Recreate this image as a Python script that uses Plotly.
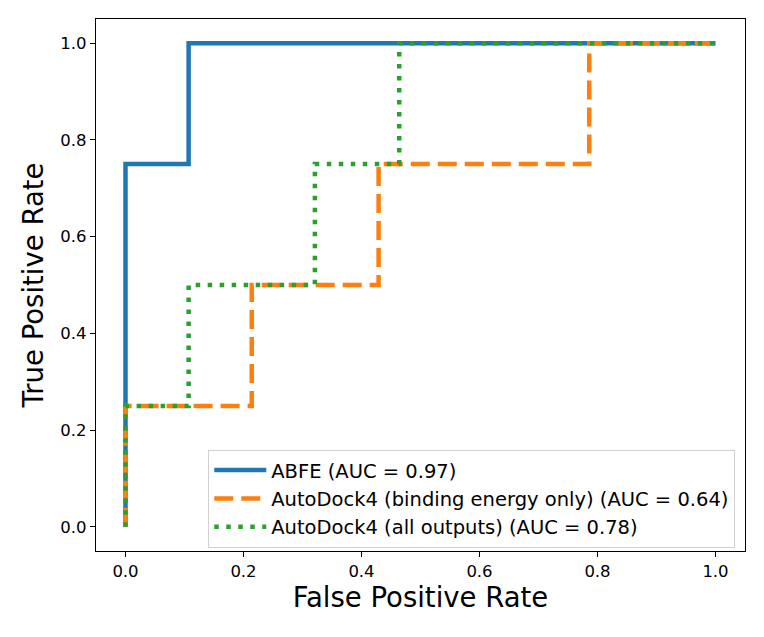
import plotly.graph_objects as go

# ROC curves
ABFE_FPR = [0.0, 0.0, 0.107, 0.107, 1.0]
ABFE_TPR = [0.0, 0.75, 0.75, 1.0, 1.0]

AD4_ENERGY_FPR = [0.0, 0.0, 0.214, 0.214, 0.429, 0.429, 0.786, 0.786, 1.0]
AD4_ENERGY_TPR = [0.0, 0.25, 0.25, 0.5, 0.5, 0.75, 0.75, 1.0, 1.0]

AD4_ALL_FPR = [0.0, 0.0, 0.107, 0.107, 0.321, 0.321, 0.464, 0.464, 1.0]
AD4_ALL_TPR = [0.0, 0.25, 0.25, 0.5, 0.5, 0.75, 0.75, 1.0, 1.0]

LABELS = [
    "ABFE (AUC = 0.97)",
    "AutoDock4 (binding energy only) (AUC = 0.64)",
    "AutoDock4 (all outputs) (AUC = 0.78)",
]
TICKS = [0.0, 0.2, 0.4, 0.6, 0.8, 1.0]
TICK_TEXT = ["0.0", "0.2", "0.4", "0.6", "0.8", "1.0"]

FONT = "DejaVu Sans"
# the page body adds an 8px margin, so the margins are shifted by that much
PAGE_OFFSET = 8

fig = go.Figure()
fig.add_trace(go.Scatter(
    x=ABFE_FPR, y=ABFE_TPR, mode="lines", name=LABELS[0],
    line={"color": "#1f77b4", "width": 4.5},
))
fig.add_trace(go.Scatter(
    x=AD4_ENERGY_FPR, y=AD4_ENERGY_TPR, mode="lines", name=LABELS[1],
    line={"color": "#ff7f0e", "width": 4.5, "dash": "19px,8px"},
))
fig.add_trace(go.Scatter(
    x=AD4_ALL_FPR, y=AD4_ALL_TPR, mode="lines", name=LABELS[2],
    line={"color": "#2ca02c", "width": 4.5, "dash": "4.5px,7.5px"},
))

axis_common = dict(
    range=[-0.05, 1.05],
    tickvals=TICKS,
    ticktext=TICK_TEXT,
    showgrid=False,
    zeroline=False,
    showline=True,
    mirror=True,
    linecolor="black",
    linewidth=1.3,
    ticks="outside",
    ticklen=5,
    tickwidth=1.2,
    tickcolor="black",
    tickfont={"family": FONT, "size": 16.5, "color": "black"},
    automargin=False,
)

fig.update_xaxes(
    **axis_common,
    title={"text": "False Positive Rate", "font": {"family": FONT, "size": 27.5, "color": "black"}, "standoff": 6},
)
fig.update_yaxes(
    **axis_common,
    title={"text": "True Positive Rate", "font": {"family": FONT, "size": 27.5, "color": "black"}, "standoff": 8},
)

fig.update_layout(
    width=764,
    height=637,
    margin={
        "l": 96 - PAGE_OFFSET,
        "r": 19 + PAGE_OFFSET,
        "t": 19 - PAGE_OFFSET,
        "b": 86 + PAGE_OFFSET,
        "autoexpand": False,
    },
    plot_bgcolor="white",
    paper_bgcolor="white",
    showlegend=True,
    legend={
        "x": 0.173,
        "y": 0.19,
        "xanchor": "left",
        "yanchor": "top",
        "bgcolor": "rgba(255,255,255,0.8)",
        "bordercolor": "#d0d0d0",
        "borderwidth": 1,
        "itemwidth": 52,
        "font": {"family": FONT, "size": 19.5, "color": "black"},
        "tracegroupgap": 0,
    },
)

fig.write_html("out.html")
